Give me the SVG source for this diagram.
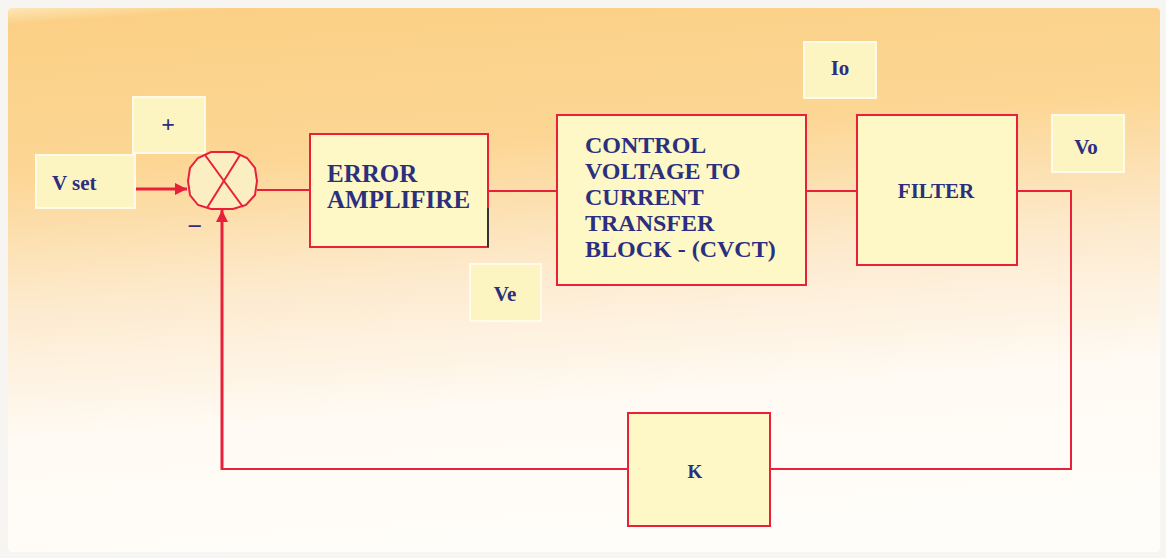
<svg xmlns="http://www.w3.org/2000/svg" width="1166" height="558" viewBox="0 0 1166 558">
<defs>
<linearGradient id="bg" x1="0" y1="0" x2="0.15" y2="1">
<stop offset="0" stop-color="#fde6b8"/>
<stop offset="0.03" stop-color="#fbd086"/>
<stop offset="0.3" stop-color="#fcd694"/>
<stop offset="0.55" stop-color="#fdebd0"/>
<stop offset="0.78" stop-color="#fffaf3"/>
<stop offset="1" stop-color="#fffdf9"/>
</linearGradient>
<marker id="ah" viewBox="0 0 10 10" refX="10" refY="5" markerWidth="4.5" markerHeight="4" orient="auto" markerUnits="strokeWidth">
<path d="M0,0 L10,5 L0,10 z" fill="#e8203a"/>
</marker>
<style>
.blk{fill:#fdf8c6;stroke:#e8203a;stroke-width:2}
.lbl{fill:#fcf5c2;stroke:#fffbe8;stroke-width:2}
.t{font-family:"Liberation Serif",serif;font-weight:bold;fill:#2b2f7e}
.w{fill:none;stroke:#e8203a;stroke-width:2}
.a{fill:none;stroke:#e8203a;stroke-width:3}
</style>
</defs>
<rect x="0" y="0" width="1166" height="558" fill="#f7f5f2"/>
<rect x="8" y="8" width="1152" height="544" rx="4" fill="url(#bg)"/>

<g id="connectors">
<path class="w" d="M257,190 H310"/>
<path class="w" d="M488,191 H557"/>
<path class="w" d="M806,191 H857"/>
<path class="w" d="M1017,191 H1071 V469 H770"/>
<path class="w" d="M628,469 H222"/>
<path class="a" d="M222,470 V210" marker-end="url(#ah)"/>
<path class="a" d="M113,189 H187" marker-end="url(#ah)"/>
</g>

<g id="vset">
<rect class="lbl" x="36" y="155" width="99" height="53"/>
<text class="t" x="52" y="190" font-size="21">V set</text>
</g>
<g id="plus">
<rect class="lbl" x="133" y="97" width="72" height="56"/>
<text class="t" x="168" y="132" font-size="24" text-anchor="middle" font-weight="normal">+</text>
</g>
<g id="minus">
<text class="t" x="195" y="235" font-size="26" text-anchor="middle" font-weight="normal">−</text>
</g>
<g id="sum">
<polygon points="211,152 234,152 247,158 255,168 257,181 255,195 246,205 233,209 211,209 198,205 190,195 188,181 190,168 198,158" fill="#fbeec2" stroke="#e8203a" stroke-width="2"/>
<line x1="205" y1="155" x2="243" y2="207" stroke="#e8203a" stroke-width="2"/>
<line x1="240" y1="155" x2="207" y2="208" stroke="#e8203a" stroke-width="2"/>
</g>
<g id="error-amp">
<rect class="blk" x="310" y="134" width="178" height="113"/>
<line x1="488" y1="208" x2="488" y2="247" stroke="#333" stroke-width="2"/>
<text class="t" x="327" y="182" font-size="25">ERROR</text>
<text class="t" x="327" y="208" font-size="25">AMPLIFIRE</text>
</g>
<g id="ve">
<rect class="lbl" x="470" y="264" width="71" height="57"/>
<text class="t" x="505" y="301" font-size="21" text-anchor="middle">Ve</text>
</g>
<g id="cvct">
<rect class="blk" x="557" y="115" width="249" height="170"/>
<text class="t" x="585" y="153" font-size="24">CONTROL</text>
<text class="t" x="585" y="179" font-size="24">VOLTAGE TO</text>
<text class="t" x="585" y="205" font-size="24">CURRENT</text>
<text class="t" x="585" y="231" font-size="24">TRANSFER</text>
<text class="t" x="585" y="257" font-size="24">BLOCK - (CVCT)</text>
</g>
<g id="io">
<rect class="lbl" x="804" y="42" width="72" height="56"/>
<text class="t" x="840" y="75" font-size="21" text-anchor="middle">Io</text>
</g>
<g id="filter">
<rect class="blk" x="857" y="115" width="160" height="150"/>
<text class="t" x="936" y="198" font-size="21" text-anchor="middle">FILTER</text>
</g>
<g id="vo">
<rect class="lbl" x="1052" y="115" width="72" height="57"/>
<text class="t" x="1086" y="154" font-size="21" text-anchor="middle">Vo</text>
</g>
<g id="k">
<rect class="blk" x="628" y="413" width="142" height="113"/>
<text class="t" x="695" y="478" font-size="19" text-anchor="middle">K</text>
</g>
</svg>
